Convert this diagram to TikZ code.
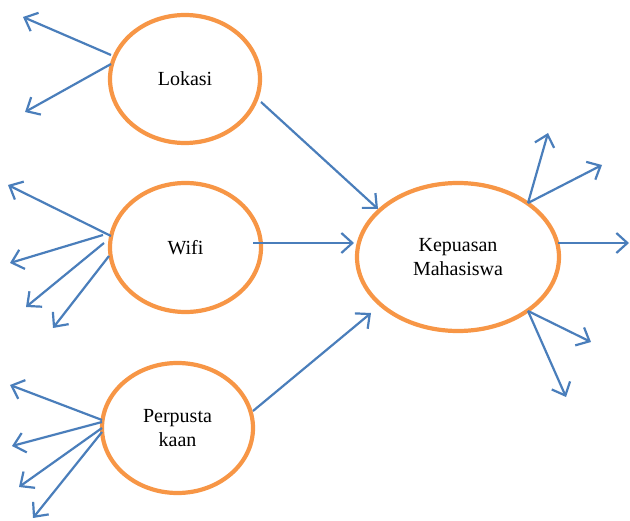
\documentclass[tikz,border=0pt]{standalone}
\usepackage{fontspec}
\setmainfont{Liberation Serif}
\usetikzlibrary{arrows.meta,shapes.geometric}
\definecolor{ellorange}{RGB}{247,150,70}
\definecolor{arrblue}{RGB}{74,126,187}
\begin{document}
\begin{tikzpicture}[x=1pt,y=-1pt,
  latent/.style={draw=ellorange,line width=4.2pt,fill=white,ellipse,inner sep=0pt,
    font=\fontsize{20}{24}\selectfont,align=center},
  conn/.style={draw=arrblue,line width=2.2pt,-{Straight Barb[length=11pt,width=20pt,line width=2.2pt]}}]
\useasboundingbox (0,0) rectangle (630,521);
\node[latent,minimum width=150pt,minimum height=128pt] (lok) at (185,79) {Lokasi};
\node[latent,minimum width=151pt,minimum height=129pt] (wifi) at (185.5,247.5) {Wifi};
\node[latent,minimum width=151pt,minimum height=130pt] (perp) at (177.5,428) {Perpusta\\kaan};
\node[latent,minimum width=202pt,minimum height=148pt] (kep) at (458,257) {Kepuasan\\Mahasiswa};
% free ends
\coordinate (l1s) at (111,55);  \coordinate (l1e) at (23,17);
\coordinate (l2s) at (111,64);  \coordinate (l2e) at (25,112);
\coordinate (w1s) at (111,236); \coordinate (w1e) at (8,185);
\coordinate (w2s) at (103,235); \coordinate (w2e) at (10,263);
\coordinate (w3s) at (104,243); \coordinate (w3e) at (26,307);
\coordinate (w4s) at (109,256); \coordinate (w4e) at (53,328);
\coordinate (p1s) at (102,420); \coordinate (p1e) at (10,385);
\coordinate (p2s) at (102,422); \coordinate (p2e) at (12,446);
\coordinate (p3s) at (102,428); \coordinate (p3e) at (19,487);
\coordinate (p4s) at (102,432); \coordinate (p4e) at (33,518);
\coordinate (k1s) at (528,203); \coordinate (k1e) at (548,133);
\coordinate (k2e) at (602,165);
\coordinate (k3s) at (558,243); \coordinate (k3e) at (629,243);
\coordinate (k4s) at (528,311); \coordinate (k4e) at (591,342);
\coordinate (k5e) at (566,397);
\coordinate (lks) at (261,102); \coordinate (lke) at (378,209);
\coordinate (wks) at (253,243); \coordinate (wke) at (354,243);
\coordinate (pks) at (253,411); \coordinate (pke) at (371,313);
\draw[conn] (l1s) -- (l1e);
\draw[conn] (l2s) -- (l2e);
\draw[conn] (w1s) -- (w1e);
\draw[conn] (w2s) -- (w2e);
\draw[conn] (w3s) -- (w3e);
\draw[conn] (w4s) -- (w4e);
\draw[conn] (p1s) -- (p1e);
\draw[conn] (p2s) -- (p2e);
\draw[conn] (p3s) -- (p3e);
\draw[conn] (p4s) -- (p4e);
\draw[conn] (k1s) -- (k1e);
\draw[conn] (k1s) -- (k2e);
\draw[conn] (k3s) -- (k3e);
\draw[conn] (k4s) -- (k4e);
\draw[conn] (k4s) -- (k5e);
\draw[conn] (lks) -- (lke);
\draw[conn] (wks) -- (wke);
\draw[conn] (pks) -- (pke);
\end{tikzpicture}
\end{document}
